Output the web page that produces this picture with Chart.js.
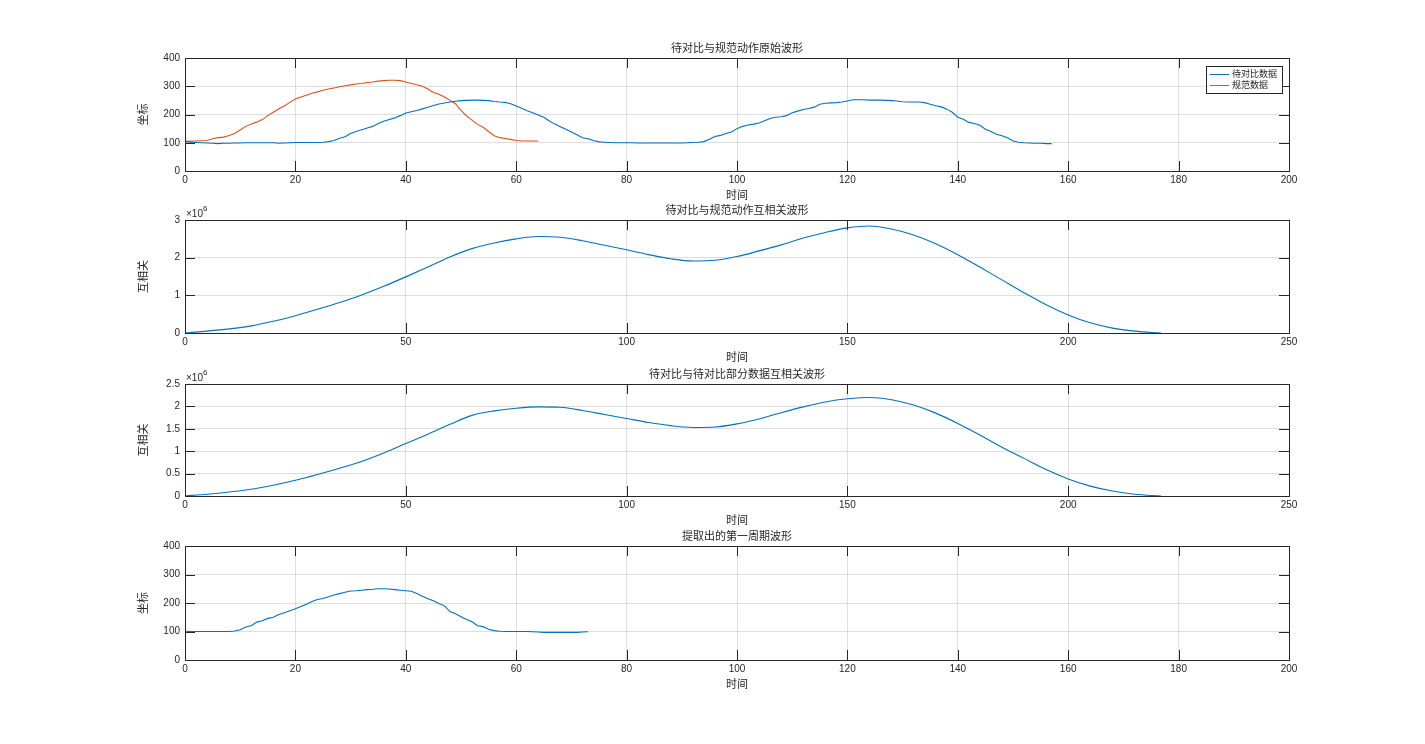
<!DOCTYPE html>
<html>
<head>
<meta charset="utf-8">
<script src="https://cdn.jsdelivr.net/npm/chart.js@4.4.0/dist/chart.umd.min.js"></script>
<style>
  html, body { margin: 0; padding: 0; background: #fff; }
  body { width: 1425px; height: 744px; position: relative; overflow: hidden; }
  canvas { position: absolute; }
</style>
</head>
<body>
<canvas id="p1"></canvas>
<canvas id="p2"></canvas>
<canvas id="p3"></canvas>
<canvas id="p4"></canvas>
<script>
// 待对比数据 (x = 0..157)
const testWave = [
  104,102,101,100,99,98,97,98,98,99,
  99,100,100,100,100,100,100,98,99,100,
  101,101,101,101,101,102,104,108,116,121,
  133,140,146,152,158,168,176,182,188,196,
  205,210,214,220,226,232,237,241,244,247,
  249,250,251,251,250,249,246,244,243,238,
  230,222,213,206,198,190,177,166,157,148,
  138,128,118,114,108,103,102,101,100,100,
  100,100,99,99,99,99,99,99,99,99,
  99,100,101,102,104,112,122,126,133,138,
  150,158,163,166,170,178,186,190,192,196,
  206,212,218,221,226,236,240,241,242,244,
  248,252,252,252,251,251,251,250,249,248,
  245,244,244,244,242,236,231,227,219,208,
  190,183,172,168,162,148,140,130,125,118,
  106,102,100,99,98,98,97,97
];
// 规范数据 (x = 0..64)
const stdWave = [
  106,105,106,107,108,114,118,120,126,133,
  145,158,166,173,182,196,208,220,230,243,
  255,262,268,275,280,286,290,294,298,302,
  305,308,310,313,315,318,320,321,321,320,
  315,310,305,300,290,278,272,262,250,238,
  215,195,180,165,155,140,125,118,115,112,
  108,106,106,106,106
];
// 互相关 (x10^6)
const xcorrLag = [0,5,10,15,20,25,30,35,40,45,50,55,60,65,70,75,80,85,90,95,100,105,110,115,120,125,130,135,140,145,150,155,160,165,170,175,180,185,190,195,200,205,210,215,221];
const xcorrStd = [0,0.05,0.11,0.19,0.31,0.46,0.63,0.81,1.01,1.24,1.49,1.75,2.02,2.24,2.39,2.50,2.56,2.54,2.45,2.33,2.21,2.08,1.97,1.91,1.93,2.03,2.18,2.34,2.52,2.67,2.79,2.84,2.76,2.60,2.37,2.08,1.75,1.41,1.07,0.75,0.48,0.27,0.13,0.05,0];
const xcorrSelf = [0,0.04,0.09,0.15,0.24,0.35,0.48,0.62,0.77,0.96,1.17,1.38,1.60,1.80,1.90,1.96,1.99,1.98,1.91,1.82,1.73,1.64,1.57,1.53,1.54,1.61,1.72,1.86,1.99,2.10,2.17,2.20,2.15,2.03,1.85,1.62,1.36,1.09,0.84,0.59,0.38,0.22,0.11,0.04,0];
// 提取出的第一周期 (x = 0..73)
const firstPeriod = [
  101,100,100,100,100,100,100,100,100,102,
  106,116,120,133,138,146,150,160,166,173,
  180,188,196,205,212,216,222,228,233,238,
  242,243,245,247,248,250,250,249,247,245,
  243,241,233,224,215,208,198,190,170,162,
  152,142,134,120,117,108,103,101,100,100,
  100,100,100,99,98,97,97,97,97,97,
  97,97,98,99
];

const titles = ['待对比与规范动作原始波形', '待对比与规范动作互相关波形', '待对比与待对比部分数据互相关波形', '提取出的第一周期波形'];
const yTitles = ['坐标', '互相关', '互相关', '坐标'];
const xTitle = '时间';
const seriesNames = ['待对比数据', '规范数据'];

const BLUE = '#0072BD', ORANGE = '#D95319', AXIS = '#262626';
const CJK = '"Noto Sans CJK SC", sans-serif';
const NUM = '"Liberation Sans", Arial, sans-serif';
const TICK = 10;

const toPts = (ys, xs) => ys.map((y, i) => ({x: xs ? xs[i] : i, y}));

// matlab-like box with inward ticks on all four sides
const boxTicks = {
  id: 'boxTicks',
  afterDatasetsDraw(chart) {
    const {ctx, chartArea: a, scales: {x, y}} = chart;
    ctx.save();
    ctx.strokeStyle = AXIS;
    ctx.lineWidth = 1;
    ctx.beginPath();
    x.ticks.forEach(t => {
      const px = Math.round(x.getPixelForValue(t.value)) + 0.5;
      ctx.moveTo(px, a.bottom); ctx.lineTo(px, a.bottom - TICK);
      ctx.moveTo(px, a.top); ctx.lineTo(px, a.top + TICK);
    });
    y.ticks.forEach(t => {
      const py = Math.round(y.getPixelForValue(t.value)) + 0.5;
      ctx.moveTo(a.left, py); ctx.lineTo(a.left + TICK, py);
      ctx.moveTo(a.right, py); ctx.lineTo(a.right - TICK, py);
    });
    ctx.stroke();
    ctx.strokeRect(Math.round(a.left) + 0.5, Math.round(a.top) + 0.5, Math.round(a.width), Math.round(a.height));
    ctx.restore();
  }
};

// ×10^6 label above the y axis
const expLabel = {
  id: 'expLabel',
  afterDraw(chart) {
    const {ctx, chartArea: a} = chart;
    ctx.save();
    ctx.fillStyle = AXIS;
    ctx.textBaseline = 'middle';
    ctx.font = '10px ' + NUM;
    ctx.fillText('\u00d710', a.left + 1, a.top - 6);
    const w = ctx.measureText('\u00d710').width;
    ctx.font = '8px ' + NUM;
    ctx.fillText('6', a.left + 1 + w, a.top - 11);
    ctx.restore();
  }
};

// boxed legend in the top right corner
const boxLegend = {
  id: 'boxLegend',
  afterDraw(chart) {
    const {ctx, chartArea: a} = chart;
    const w = 76, h = 27;
    const left = Math.round(a.right) - 7 - w, top = Math.round(a.top) + 8;
    ctx.save();
    ctx.fillStyle = '#fff';
    ctx.fillRect(left, top, w, h);
    ctx.strokeStyle = AXIS;
    ctx.lineWidth = 1;
    ctx.strokeRect(left + 0.5, top + 0.5, w, h);
    ctx.font = '9px ' + CJK;
    ctx.textBaseline = 'middle';
    chart.data.datasets.forEach((ds, i) => {
      const cy = top + 8 + i * 11;
      ctx.strokeStyle = ds.borderColor;
      ctx.beginPath();
      ctx.moveTo(left + 4, cy + 0.5); ctx.lineTo(left + 23, cy + 0.5);
      ctx.stroke();
      ctx.fillStyle = AXIS;
      ctx.fillText(ds.label, left + 26, cy);
    });
    ctx.restore();
  }
};

function makePlot(id, top, bottom, idx, datasets, xMax, xStep, yMax, yStep, extra) {
  const canvas = document.getElementById(id);
  canvas.width = 1184;
  canvas.height = bottom - top + 54;
  canvas.style.left = '120px';
  canvas.style.top = (top - 22) + 'px';
  return new Chart(canvas.getContext('2d'), {
    type: 'line',
    data: {datasets},
    options: {
      responsive: false,
      animation: false,
      devicePixelRatio: 1,
      layout: {padding: {left: 0, right: 15, top: 0, bottom: 0}},
      elements: {point: {radius: 0}, line: {borderWidth: 1.1}},
      plugins: {
        legend: {display: false},
        tooltip: {enabled: false},
        title: {
          display: true, text: titles[idx], fullSize: false, color: AXIS,
          font: {family: CJK, size: 11, weight: 'normal', lineHeight: '14px'},
          padding: {top: 5, bottom: 3}
        }
      },
      scales: {
        x: {
          type: 'linear', min: 0, max: xMax,
          afterFit: s => { s.height = 32; },
          grid: {color: 'rgba(38,38,38,0.15)', drawTicks: false},
          border: {display: false},
          ticks: {stepSize: xStep, autoSkip: false, maxRotation: 0, padding: 3, color: AXIS, font: {family: NUM, size: 10}},
          title: {display: true, text: xTitle, color: AXIS, font: {family: CJK, size: 11, lineHeight: '14px'}, padding: {top: 0, bottom: 1}}
        },
        y: {
          min: 0, max: yMax,
          afterFit: s => { s.width = 65; },
          grid: {color: 'rgba(38,38,38,0.15)', drawTicks: false},
          border: {display: false},
          ticks: {stepSize: yStep, padding: 5, color: AXIS, font: {family: NUM, size: 10}, callback: v => String(v)},
          title: {display: true, text: yTitles[idx], color: AXIS, font: {family: CJK, size: 11, lineHeight: '14px'}, padding: {top: 16, bottom: 0}}
        }
      }
    },
    plugins: [boxTicks].concat(extra || [])
  });
}

const jagged = {tension: 0, fill: false};
const smooth = {cubicInterpolationMode: 'monotone', fill: false};

makePlot('p1', 58, 171, 0, [
  Object.assign({label: seriesNames[0], data: toPts(testWave), borderColor: BLUE}, jagged),
  Object.assign({label: seriesNames[1], data: toPts(stdWave), borderColor: ORANGE}, jagged)
], 200, 20, 400, 100, [boxLegend]);

makePlot('p2', 220, 333, 1, [
  Object.assign({label: '互相关', data: toPts(xcorrStd, xcorrLag), borderColor: BLUE}, smooth)
], 250, 50, 3, 1, [expLabel]);

makePlot('p3', 384, 496, 2, [
  Object.assign({label: '互相关', data: toPts(xcorrSelf, xcorrLag), borderColor: BLUE}, smooth)
], 250, 50, 2.5, 0.5, [expLabel]);

makePlot('p4', 546, 660, 3, [
  Object.assign({label: seriesNames[0], data: toPts(firstPeriod), borderColor: BLUE}, jagged)
], 200, 20, 400, 100);
</script>
</body>
</html>
